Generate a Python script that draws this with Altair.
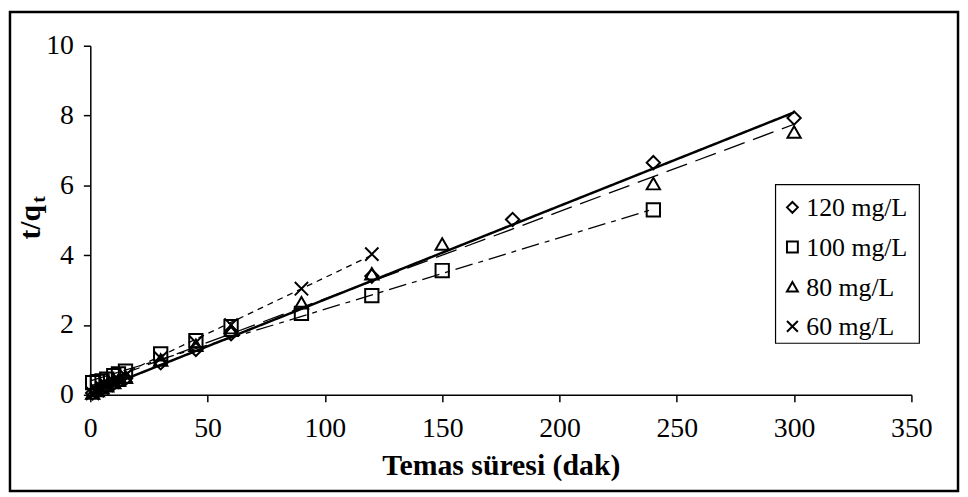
import altair as alt
import pandas as pd

# ---- data ----
series_names = ["120 mg/L", "100 mg/L", "80 mg/L", "60 mg/L"]

t_120 = [1, 3, 5, 7, 10, 12, 15, 30, 45, 60, 120, 180, 240, 300]
y_120 = [0.05, 0.12, 0.18, 0.24, 0.33, 0.38, 0.47, 0.92, 1.30, 1.75, 3.40, 5.02, 6.65, 7.93]

t_100 = [1, 3, 5, 7, 10, 12, 15, 30, 45, 60, 90, 120, 150, 240]
y_100 = [0.35, 0.38, 0.40, 0.45, 0.55, 0.60, 0.68, 1.17, 1.55, 1.95, 2.33, 2.84, 3.56, 5.30]

t_80 = [1, 3, 5, 7, 10, 12, 15, 30, 45, 60, 90, 120, 150, 240, 300]
y_80 = [0.05, 0.12, 0.20, 0.26, 0.35, 0.42, 0.50, 1.00, 1.42, 1.85, 2.64, 3.47, 4.32, 6.05, 7.53]

t_60 = [1, 3, 5, 7, 10, 12, 15, 30, 45, 60, 90, 120]
y_60 = [0.04, 0.12, 0.20, 0.27, 0.38, 0.44, 0.55, 1.05, 1.50, 2.00, 3.04, 4.03]

# trend-line end points (start, end) per series
fit_t0 = [0, 0, 0, 0]
fit_t1 = [300, 240, 300, 120]
fit_y0 = [0.05, 0.40, 0.25, 0.15]
fit_y1 = [8.09, 5.32, 7.75, 4.00]

x_ticks = [0, 50, 100, 150, 200, 250, 300, 350]
y_ticks = [0, 2, 4, 6, 8, 10]

# ---- tables ----
rows = []
for name, ts, ys in zip(series_names, [t_120, t_100, t_80, t_60], [y_120, y_100, y_80, y_60]):
    for t, y in zip(ts, ys):
        rows.append({"series": name, "t": t, "y": y})
pts = pd.DataFrame(rows)

lrows = []
for name, a, b, c, d in zip(series_names, fit_t0, fit_t1, fit_y0, fit_y1):
    lrows.append({"fit": name, "t": a, "y": c})
    lrows.append({"fit": name, "t": b, "y": d})
lines = pd.DataFrame(lrows)

FONT = "Liberation Serif"

x_enc = alt.X("t:Q", scale=alt.Scale(domain=[0, 350], nice=False),
              axis=alt.Axis(values=x_ticks, title="Temas süresi (dak)"))
y_enc = alt.Y("y:Q", scale=alt.Scale(domain=[0, 10], nice=False),
              axis=alt.Axis(values=y_ticks, title=None))

shape_scale = alt.Scale(domain=series_names,
                        range=["diamond", "square", "triangle-up", "M-1,-1L1,1M-1,1L1,-1"])

line_layer = alt.Chart(lines).mark_line(color="black").encode(
    x=x_enc, y=y_enc, detail="fit:N",
    strokeDash=alt.StrokeDash("fit:N", legend=None,
                              scale=alt.Scale(domain=series_names,
                                              range=[[1, 0], [18, 6, 5, 6], [22, 9], [6, 5]])),
    strokeWidth=alt.condition("datum.fit == '120 mg/L'", alt.value(2.5), alt.value(1.3)),
)

point_layer = alt.Chart(pts).mark_point(filled=False, color="black", strokeWidth=2, size=180, opacity=1).encode(
    x=x_enc, y=y_enc,
    shape=alt.Shape("series:N", scale=shape_scale, legend=None),
)

one = pd.DataFrame({"a": [0]})
border = alt.Chart(one).mark_rect(fillOpacity=0, stroke="black", strokeWidth=2.5).encode(
    x=alt.value(-81), x2=alt.value(875), y=alt.value(-34), y2=alt.value(449))

ytitle = alt.Chart(one).mark_text(font=FONT, fontSize=30, fontWeight="bold", angle=270,
                                  align="center", baseline="middle", color="black").encode(
    x=alt.value(-60), y=alt.value(178), text=alt.value("t/q"))
ysub = alt.Chart(one).mark_text(font=FONT, fontSize=20, fontWeight="bold", angle=270,
                                align="center", baseline="middle", color="black").encode(
    x=alt.value(-52), y=alt.value(155), text=alt.value("t"))

# legend drawn with marks (box, symbols, labels)
legend_box = alt.Chart(one).mark_rect(fill="white", stroke="black", strokeWidth=1.2).encode(
    x=alt.value(691), x2=alt.value(836), y=alt.value(140), y2=alt.value(300))
legend_layers = [legend_box]
for i, name in enumerate(series_names):
    ld = pd.DataFrame({"series": [name]})
    legend_layers.append(
        alt.Chart(ld).mark_point(filled=False, color="black", strokeWidth=2, size=120, opacity=1).encode(
            x=alt.value(708), y=alt.value(163 + 40 * i),
            shape=alt.Shape("series:N", scale=shape_scale, legend=None)))
    legend_layers.append(
        alt.Chart(ld).mark_text(font=FONT, fontSize=26, align="left", baseline="middle", color="black").encode(
            x=alt.value(722), y=alt.value(164 + 40 * i), text=alt.value(name)))

chart = alt.layer(border, line_layer, point_layer, ytitle, ysub, *legend_layers).properties(
    width=828, height=352, padding=0
).configure_view(stroke=None).configure_axis(
    domainColor="black", domainWidth=1.5, tickColor="black", tickWidth=1.5, tickSize=7,
    grid=False, labelFont=FONT, labelFontSize=28, labelColor="black", labelFlush=False,
    labelPadding=10, titleFont=FONT, titleFontSize=30, titleFontWeight="bold", titleColor="black",
).configure_axisX(labelPadding=13, titlePadding=8)

chart.save("out.html", embed_options={"renderer": "svg", "actions": False})
